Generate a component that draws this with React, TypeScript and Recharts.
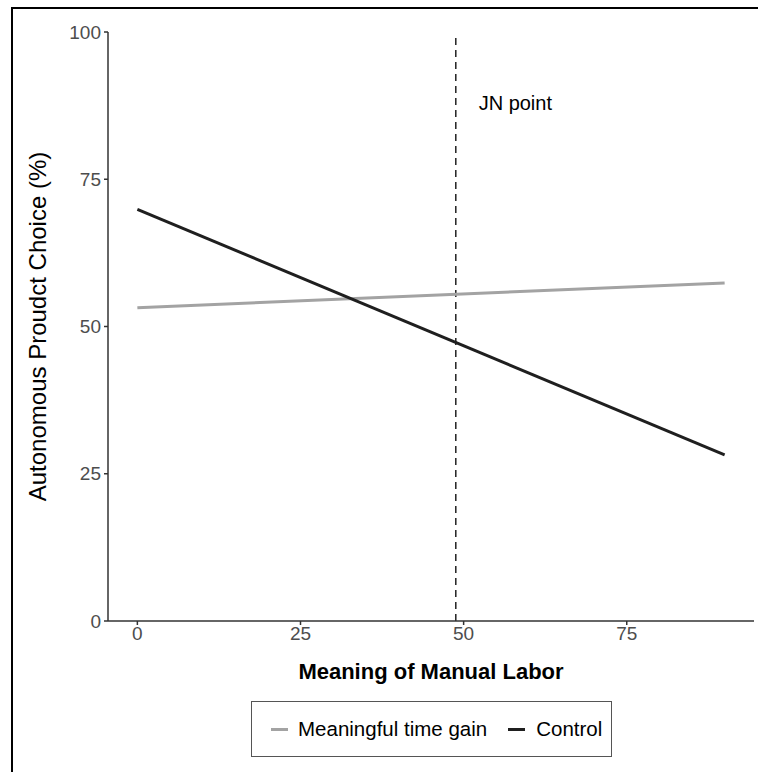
import React, { useEffect } from 'react';
import {
	LineChart,
	Line,
	XAxis,
	YAxis,
	ReferenceLine,
	ReferenceDot,
	Label,
} from 'recharts';

const xValues = [0, 90];
const meaningfulValues = [53.2, 57.4];
const controlValues = [69.9, 28.2];
const xTicks = [0, 25, 50, 75];
const yTicks = [0, 25, 50, 75, 100];
const jnPoint = 48.8;

const data = xValues.map((x, i) => ({
	x,
	meaningful: meaningfulValues[i],
	control: controlValues[i],
}));

const FONT = '"Liberation Sans", Arial, sans-serif';

const LegendBox = () => (
	<div
		style={{
			position: 'absolute',
			left: 251,
			top: 701,
			display: 'flex',
			alignItems: 'center',
			width: 361,
			height: 56,
			boxSizing: 'border-box',
			border: '1px solid #555',
			fontFamily: FONT,
			fontSize: 20.5,
			color: '#000',
			paddingLeft: 19,
		}}
	>
		<span style={{ width: 17, height: 3, background: '#a3a3a3', marginRight: 10 }} />
		<span>Meaningful time gain</span>
		<span style={{ width: 17, height: 3, background: '#1f1f1f', marginLeft: 21, marginRight: 11 }} />
		<span>Control</span>
	</div>
);

export default function App() {
	useEffect(() => {
		document.body.style.margin = '0';
	}, []);

	return (
		<div style={{ position: 'relative', width: 758, height: 772, background: '#fff' }}>
			<div
				style={{
					position: 'absolute',
					left: 11,
					top: 7,
					right: 0,
					bottom: 0,
					borderTop: '2px solid #000',
					borderLeft: '2px solid #000',
				}}
			/>
			<LineChart
				width={758}
				height={772}
				data={data}
				margin={{ top: 32, right: 4, bottom: 0, left: 50 }}
				style={{ position: 'absolute', left: 0, top: 0 }}
			>
				<XAxis
					dataKey="x"
					type="number"
					domain={[-4.5, 94.5]}
					ticks={xTicks}
					allowDataOverflow
					stroke="#333"
					strokeWidth={1.5}
					tickSize={4}
					tick={{ fontSize: 19, fill: '#4d4d4d', fontFamily: FONT }}
					tickMargin={2}
					height={151}
				>
					<Label
						value="Meaning of Manual Labor"
						position="insideTop"
						offset={42}
						style={{ fontSize: 22, fontWeight: 'bold', fill: '#000', fontFamily: FONT }}
					/>
				</XAxis>
				<YAxis
					type="number"
					domain={[0, 100]}
					ticks={yTicks}
					stroke="#333"
					strokeWidth={1.5}
					tickSize={4}
					tick={{ fontSize: 19, fill: '#4d4d4d', fontFamily: FONT }}
					tickMargin={3}
					width={58}
				>
					<Label
						value="Autonomous Proudct Choice (%)"
						angle={-90}
						position="insideLeft"
						offset={-13}
						style={{ textAnchor: 'middle', fontSize: 24, fill: '#000', fontFamily: FONT }}
					/>
				</YAxis>
				<ReferenceLine
					stroke="#222"
					strokeWidth={1.5}
					strokeDasharray="7 5"
					segment={[
						{ x: jnPoint, y: 99 },
						{ x: jnPoint, y: 0 },
					]}
				/>
				<ReferenceDot x={52.3} y={88} r={0} stroke="none" fill="none">
					<Label
						value="JN point"
						position="right"
						offset={0}
						style={{ fontSize: 20, fill: '#000', fontFamily: FONT }}
					/>
				</ReferenceDot>
				<Line
					type="linear"
					dataKey="meaningful"
					stroke="#a3a3a3"
					strokeWidth={3}
					dot={false}
					isAnimationActive={false}
				/>
				<Line
					type="linear"
					dataKey="control"
					stroke="#1f1f1f"
					strokeWidth={3}
					dot={false}
					isAnimationActive={false}
				/>
			</LineChart>
			<LegendBox />
		</div>
	);
}
